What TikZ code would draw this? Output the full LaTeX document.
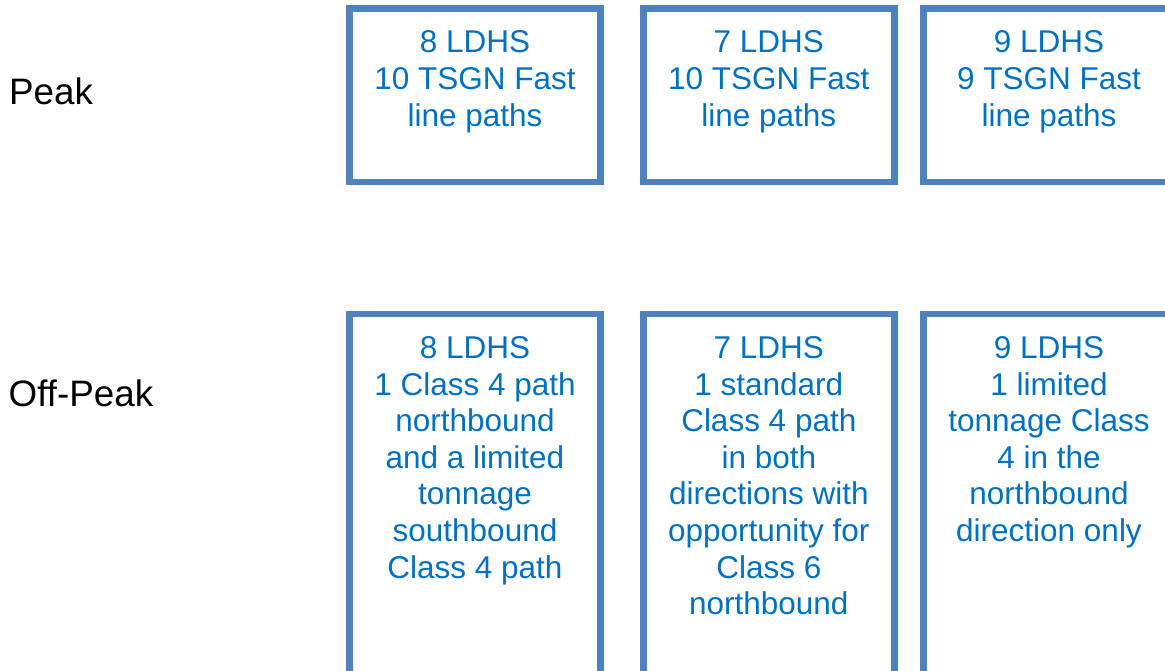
\documentclass[tikz,border=0pt]{standalone}
\usepackage{fontspec}
\setmainfont{Liberation Sans}
\definecolor{boxline}{HTML}{4F81BD}
\definecolor{boxtext}{HTML}{0070C0}
\begin{document}
\begin{tikzpicture}[x=1pt,y=-1pt,
  panel/.style={draw=boxline,line width=6.5pt,minimum width=251pt,inner sep=0pt,outer sep=0pt,anchor=north west},
  toprow/.style={panel,minimum height=173.5pt},
  botrow/.style={panel,minimum height=380pt},
  paneltext/.style={anchor=north,inner sep=0pt,text=boxtext,align=center,
    font=\fontsize{31.5pt}{36.6pt}\selectfont},
  rowlabel/.style={anchor=base west,inner sep=0pt,font=\fontsize{36.8pt}{42pt}\selectfont}]
\useasboundingbox (0,0) rectangle (1165,670);
\clip (0,0) rectangle (1165,670);
% row labels
\node[rowlabel] (peak) at (9,104) {Peak};
\node[rowlabel] (offpeak) at (8.5,406.5) {Off-Peak};
% peak boxes
\node[toprow] (p1) at (349.5,8.5) {};
\node[toprow] (p2) at (643.3,8.5) {};
\node[toprow] (p3) at (923.5,8.5) {};
\node[paneltext] (tp1) at ([yshift=-22.3pt]p1.north) {8 LDHS\\10 TSGN Fast\\line paths};
\node[paneltext] (tp2) at ([yshift=-22.3pt]p2.north) {7 LDHS\\10 TSGN Fast\\line paths};
\node[paneltext] (tp3) at ([yshift=-22.3pt]p3.north) {9 LDHS\\9 TSGN Fast\\line paths};
% off-peak boxes
\node[botrow] (o1) at (349.5,314) {};
\node[botrow] (o2) at (643.3,314) {};
\node[botrow] (o3) at (923.5,314) {};
\node[paneltext] (to1) at ([yshift=-22.3pt]o1.north) {8 LDHS\\1 Class 4 path\\northbound\\and a limited\\tonnage\\southbound\\Class 4 path};
\node[paneltext] (to2) at ([yshift=-22.3pt]o2.north) {7 LDHS\\1 standard\\Class 4 path\\in both\\directions with\\opportunity for\\Class 6\\northbound};
\node[paneltext] (to3) at ([yshift=-22.3pt]o3.north) {9 LDHS\\1 limited\\tonnage Class\\4 in the\\northbound\\direction only};
\end{tikzpicture}
\end{document}
